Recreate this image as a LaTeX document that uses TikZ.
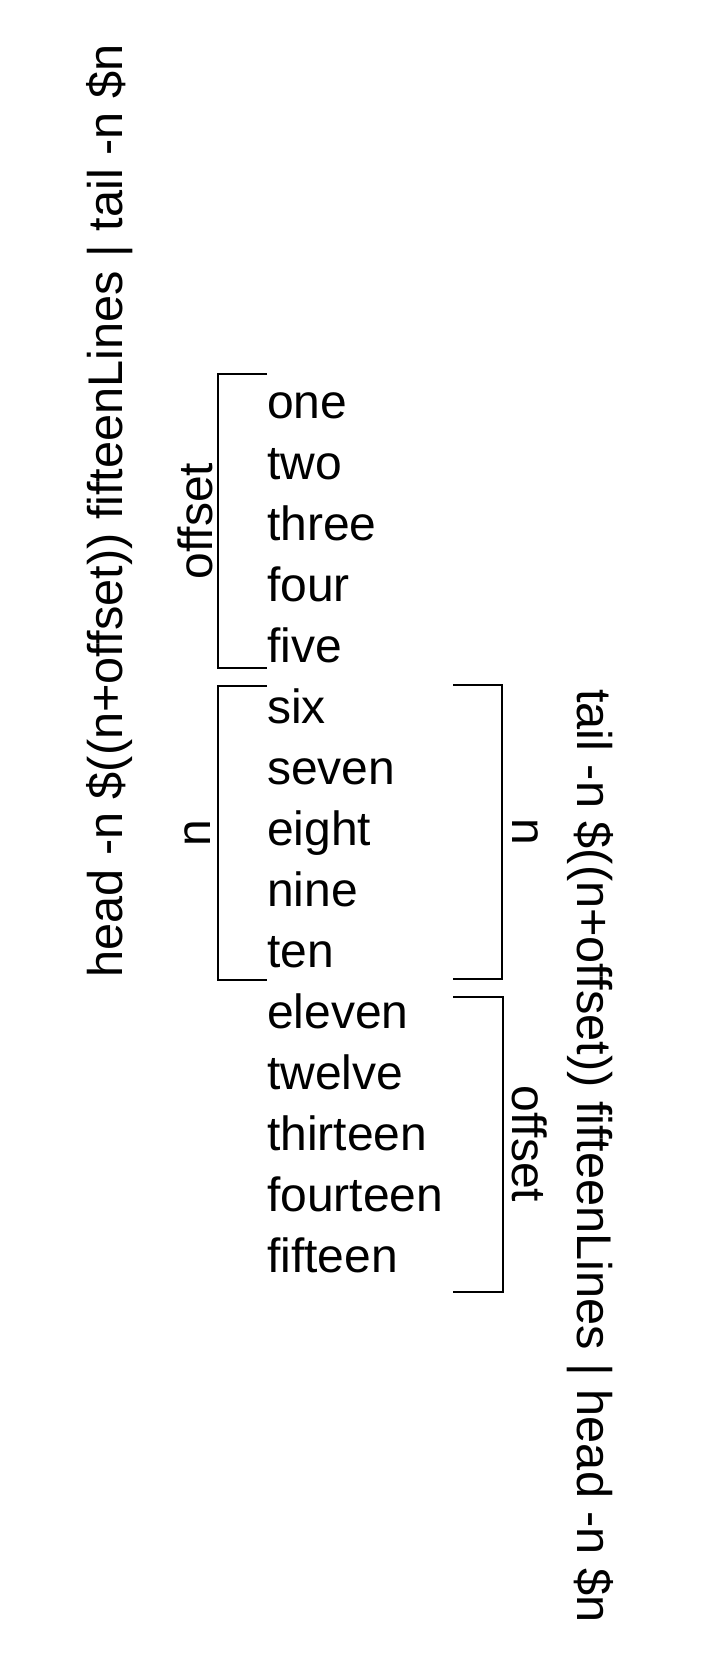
\documentclass[tikz,border=0pt]{standalone}
\usepackage{fontspec}
\setmainfont{Liberation Sans}
\begin{document}
\begin{tikzpicture}[x=1pt,y=-1pt,
  word/.style={anchor=base west,inner sep=0pt,font=\fontsize{48}{58}\selectfont},
  lab/.style={anchor=base,inner sep=0pt,font=\fontsize{48}{58}\selectfont},
  cmd/.style={anchor=base,inner sep=0pt,font=\fontsize{48.7}{58}\selectfont},
  brk/.style={line width=1.7pt,line join=miter}]
\useasboundingbox (0,0) rectangle (720,1661);
\foreach \w [count=\i] in {one,two,three,four,five,six,seven,eight,nine,ten,eleven,twelve,thirteen,fourteen,fifteen}
  \node[word] (w\i) at (267,{418+61*(\i-1)}) {\w};
% left brackets
\coordinate (la1) at (267,374); \coordinate (lb1) at (267,668);
\coordinate (la2) at (267,686); \coordinate (lb2) at (267,980);
\draw[brk] (la1) -- ++(-49,0) |- (lb1);
\draw[brk] (la2) -- ++(-49,0) |- (lb2);
% right brackets
\coordinate (ra1) at (453,685); \coordinate (rb1) at (453,979);
\coordinate (ra2) at (453,997); \coordinate (rb2) at (453,1292);
\draw[brk] (ra1) -- ++(49,0) |- (rb1);
\draw[brk] (ra2) -- ++(50,0) |- (rb2);
% bracket labels
\node[lab,rotate=90] (loff) at (212,521) {offset};
\node[lab,rotate=90] (ln) at (210,833) {n};
\node[lab,rotate=-90] (rn) at (512,832) {n};
\node[lab,rotate=-90] (roff) at (512,1144) {offset};
% commands
\node[cmd,rotate=90] (lcmd) at (122,511) {head -n \$((n+offset)) fifteenLines | tail -n \$n};
\node[cmd,rotate=-90] (rcmd) at (577,1156) {tail -n \$((n+offset)) fifteenLines | head -n \$n};
\end{tikzpicture}
\end{document}
